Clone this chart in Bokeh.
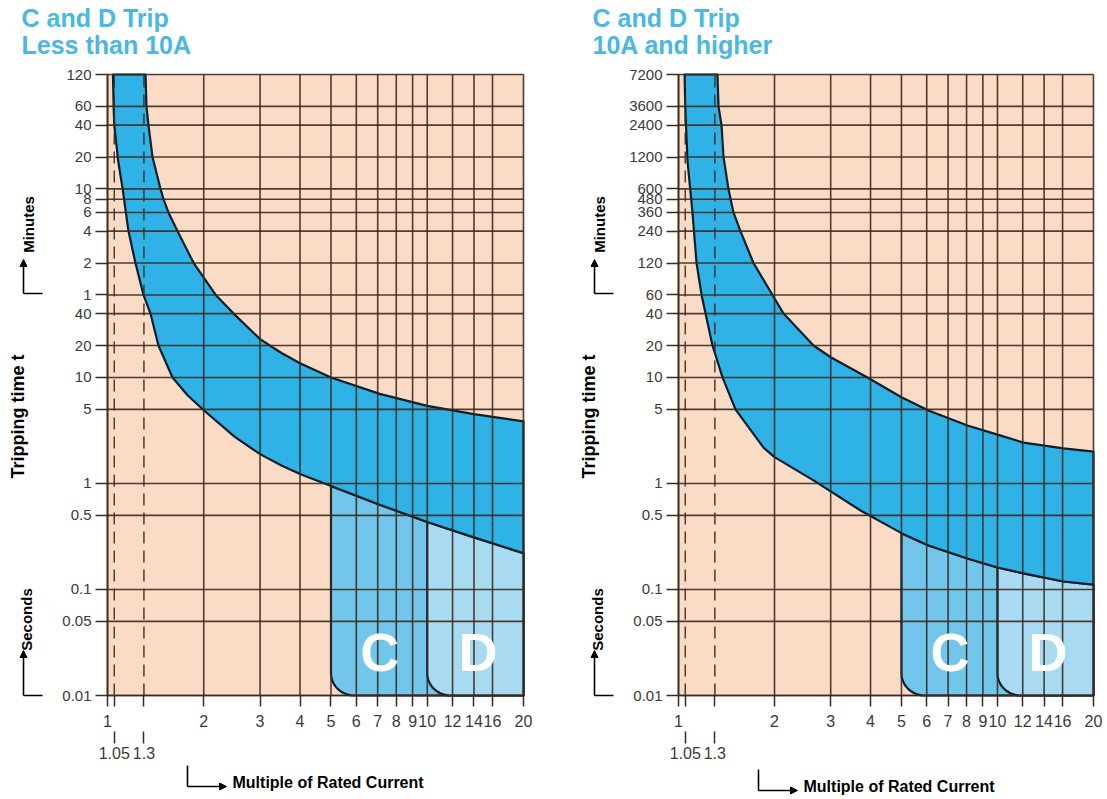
import numpy as np
from bokeh.plotting import figure
from bokeh.layouts import row
from bokeh.models import FixedTicker, LogAxis, Label, Arrow, NormalHead, Range1d
from bokeh.embed import file_html
from bokeh.resources import INLINE

# ---------------- data ----------------
x_ticks = [1, 2, 3, 4, 5, 6, 7, 8, 9, 10, 12, 14, 16, 20]
x_marks = [1.05, 1.3]
y_ticks = [7200, 3600, 2400, 1200, 600, 480, 360, 240, 120, 60, 40, 20, 10, 5, 1, 0.5, 0.1, 0.05, 0.01]
left_y_labels = ["120", "60", "40", "20", "10", "8", "6", "4", "2", "1",
                 "40", "20", "10", "5", "1", "0.5", "0.1", "0.05", "0.01"]
right_y_labels = ["7200", "3600", "2400", "1200", "600", "480", "360", "240", "120", "60",
                  "40", "20", "10", "5", "1", "0.5", "0.1", "0.05", "0.01"]

c_start = 5
d_start = 10

# Less than 10A: lower (fastest) and upper (slowest) trip curves, seconds
left_lower_x = [1.04, 1.045, 1.05, 1.08, 1.115, 1.163, 1.223, 1.296, 1.363, 1.443, 1.597,
                1.78, 2.0, 2.5, 3.0, 3.5, 4.0, 5.0, 7.0, 10.0, 14.0, 20.0]
left_lower_t = [7200, 3600, 2400, 1100, 600, 240, 120, 60, 40, 20, 10,
                6.8, 4.9, 2.75, 1.89, 1.48, 1.23, 0.945, 0.64, 0.433, 0.31, 0.22]
left_upper_x = [1.315, 1.324, 1.343, 1.383, 1.465, 1.497, 1.551, 1.655, 1.86, 2.18, 2.48,
                3.0, 3.5, 4.0, 5.0, 7.1, 10.0, 14.0, 20.0]
left_upper_t = [7200, 3600, 2400, 1200, 600, 480, 360, 240, 120, 60, 40,
                23, 17, 13.6, 10, 7.0, 5.4, 4.5, 3.85]

# 10A and higher
right_lower_x = [1.045, 1.05, 1.067, 1.106, 1.139, 1.181, 1.278, 1.374, 1.509, 1.847, 2.0,
                 2.65, 3.72, 5.0, 6.08, 8.05, 10.0, 12.06, 16.1, 20.0]
right_lower_t = [7200, 3600, 1100, 360, 120, 60, 20, 10, 5, 2.18, 1.77,
                 1.07, 0.556, 0.34, 0.26, 0.196, 0.161, 0.142, 0.119, 0.111]
right_upper_x = [1.325, 1.335, 1.364, 1.384, 1.434, 1.487, 1.564, 1.718, 1.971, 2.134, 2.65,
                 3.0, 3.913, 5.0, 6.08, 8.05, 10.0, 12.06, 16.1, 20.0]
right_upper_t = [7200, 3600, 2400, 1200, 600, 360, 240, 120, 60, 40, 20,
                 15.5, 10, 6.5, 4.88, 3.52, 2.89, 2.43, 2.14, 2.0]

left_title = ["C and D Trip", "Less than 10A"]
right_title = ["C and D Trip", "10A and higher"]
y_title = "Tripping time t"
y_upper = "Minutes"
y_lower = "Seconds"
x_title = "Multiple of Rated Current"

# ---------------- style / layout ----------------
FONT = "Liberation Sans"
PEACH = "#F9DBC6"
BAND = "#2FB2E5"
C_FILL = "#72C6EC"
D_FILL = "#A8DBF1"
GRID = "#3B2A1F"
OUTLINE = "#0F1E2A"
TITLE = "#4AB8E2"
TEXT = "#3A3A3A"
H = 797
FT, FB = 74, 695          # chart box top / bottom (px)
CORNER_RX = 0.073         # rounded corner radius, log10 units
CORNER_RY = 0.21

X_MIN, X_MAX = x_ticks[0], x_ticks[-1]
T_MIN, T_MAX = min(y_ticks), max(y_ticks)


def region(x0, cx, ct, n=14):
    cx = np.asarray(cx, float)
    ct = np.asarray(ct, float)
    sel = cx >= x0
    xs, ts = cx[sel], ct[sel]
    th = np.linspace(np.pi, 1.5 * np.pi, n)
    lx0 = np.log10(x0)
    lyb = np.log10(T_MIN)
    ax = 10 ** (lx0 + CORNER_RX + CORNER_RX * np.cos(th))
    ay = 10 ** (lyb + CORNER_RY + CORNER_RY * np.sin(th))
    px = [x0] + list(ax) + [xs[-1]] + list(xs[::-1])
    py = [ts[0]] + list(ay) + [T_MIN] + list(ts[::-1])
    return px, py


def make_panel(title, ylabels, lx, lt, ux, ut, width, fl, fr, xlab_y):
    dec_x = (fr - fl) / np.log10(X_MAX / X_MIN)
    dec_y = (FB - FT) / np.log10(T_MAX / T_MIN)
    xr = Range1d(X_MIN * 10 ** (-fl / dec_x), X_MIN * 10 ** ((width - fl) / dec_x))
    yr = Range1d(T_MIN * 10 ** (-(H - FB) / dec_y), T_MAX * 10 ** (FT / dec_y))
    p = figure(width=width, height=H, x_axis_type="log", y_axis_type="log",
               x_range=xr, y_range=yr, output_backend="svg", toolbar_location=None,
               min_border=0, min_border_left=0, min_border_right=0,
               min_border_top=0, min_border_bottom=0)
    p.background_fill_color = "white"
    p.border_fill_color = "white"
    p.outline_line_color = None
    p.grid.visible = False

    def sx(rel):
        return fl + rel

    def sy(py):
        return H - py

    def text(rel, py, s, size, color="black", angle=0, align="left"):
        p.add_layout(Label(x=sx(rel), y=sy(py), x_units="screen", y_units="screen", text=s,
                           text_font=FONT, text_font_size=size, text_font_style="bold",
                           text_color=color, angle=angle, angle_units="deg",
                           text_align=align, text_baseline="middle"))

    def seg(r0, y0, r1, y1, head=False):
        p.add_layout(Arrow(x_start=sx(r0), y_start=sy(y0), x_end=sx(r1), y_end=sy(y1),
                           start_units="screen", end_units="screen",
                           end=NormalHead(size=7, fill_color="black", line_color="black",
                                          line_width=1) if head else None,
                           line_color="black", line_width=1.6))

    # chart background
    p.quad(left=[X_MIN], right=[X_MAX], bottom=[T_MIN], top=[T_MAX],
           fill_color=PEACH, line_color=None)

    # C / D regions and the band
    cxs, cys = region(c_start, lx, lt)
    p.patch(cxs, cys, fill_color=C_FILL, line_color=OUTLINE, line_width=2.2, line_join="round")
    dxs, dys = region(d_start, lx, lt)
    p.patch(dxs, dys, fill_color=D_FILL, line_color=OUTLINE, line_width=2.2, line_join="round")
    p.patch(list(lx) + list(ux[::-1]), list(lt) + list(ut[::-1]),
            fill_color=BAND, line_color=OUTLINE, line_width=2.2, line_join="round")

    # grid lines on top of the fills
    p.segment(x0=x_ticks, y0=[T_MIN] * len(x_ticks), x1=x_ticks, y1=[T_MAX] * len(x_ticks),
              line_color=GRID, line_width=1.6, line_alpha=0.9)
    p.segment(x0=[X_MIN] * len(y_ticks), y0=y_ticks, x1=[X_MAX] * len(y_ticks), y1=y_ticks,
              line_color=GRID, line_width=1.6, line_alpha=0.9)
    p.segment(x0=x_marks, y0=[T_MIN] * len(x_marks), x1=x_marks, y1=[T_MAX] * len(x_marks),
              line_color=GRID, line_width=1.5, line_alpha=0.9, line_dash="12 7")

    # axes, fixed on the chart box
    xa = p.xaxis[0]
    xa.fixed_location = T_MIN
    xa.bounds = (X_MIN, X_MAX)
    xa.ticker = FixedTicker(ticks=x_ticks + x_marks)
    ov = {v: str(v) for v in x_ticks}
    ov.update({m: "" for m in x_marks})
    xa.major_label_overrides = ov
    xa.minor_tick_line_color = None
    xa.major_tick_out = 11
    xa.major_tick_in = 0
    xa.major_tick_line_color = GRID
    xa.major_tick_line_width = 1.5
    xa.axis_line_color = GRID
    xa.axis_line_width = 1.6
    xa.major_label_standoff = 8
    xa.major_label_text_font = FONT
    xa.major_label_text_font_size = "16px"
    xa.major_label_text_color = TEXT

    xa2 = LogAxis(ticker=FixedTicker(ticks=x_marks),
                  fixed_location=T_MIN * 10 ** (-(731 - FB) / dec_y),
                  major_label_overrides={m: str(m) for m in x_marks},
                  axis_line_color=None, minor_tick_line_color=None,
                  major_tick_out=12, major_tick_in=0,
                  major_tick_line_color=GRID, major_tick_line_width=1.5,
                  major_label_standoff=3, major_label_text_font=FONT,
                  major_label_text_font_size="16px", major_label_text_color=TEXT)
    p.add_layout(xa2, "below")

    ya = p.yaxis[0]
    ya.fixed_location = X_MIN
    ya.bounds = (T_MIN, T_MAX)
    ya.ticker = FixedTicker(ticks=y_ticks)
    ya.major_label_overrides = {v: s for v, s in zip(y_ticks, ylabels)}
    ya.minor_tick_line_color = None
    ya.major_tick_out = 12
    ya.major_tick_in = 0
    ya.major_tick_line_color = GRID
    ya.major_tick_line_width = 1.5
    ya.axis_line_color = GRID
    ya.axis_line_width = 1.6
    ya.major_label_standoff = 4
    ya.major_label_text_font = FONT
    ya.major_label_text_font_size = "15px"
    ya.major_label_text_color = TEXT

    # C / D letters
    for lx_, s in ((7.1, "C"), (14.4, "D")):
        p.add_layout(Label(x=lx_, y=0.0255, text=s, text_color="white", text_font=FONT,
                           text_font_size="54px", text_font_style="bold",
                           text_align="center", text_baseline="middle"))

    # titles
    text(-86, 17.5, title[0], "25px", color=TITLE)
    text(-86, 44.5, title[1], "25px", color=TITLE)

    # y labels and arrows
    text(-89.5, 416, y_title, "18px", angle=90, align="center")
    text(-79.5, 224, y_upper, "15px", angle=90, align="center")
    text(-81, 619, y_lower, "15px", angle=90, align="center")
    seg(-84, 293, -84, 259, head=True)
    seg(-84, 293, -65, 293)
    seg(-84, FB, -84, 650, head=True)
    seg(-84, FB, -65, FB)

    # x label and arrow
    seg(80, xlab_y - 21, 80, xlab_y)
    seg(80, xlab_y, 119, xlab_y, head=True)
    text(125, xlab_y - 4, x_title, "16px")
    return p


left = make_panel(left_title, left_y_labels, left_lower_x, left_lower_t,
                  left_upper_x, left_upper_t, width=537, fl=107, fr=523, xlab_y=786)
right = make_panel(right_title, right_y_labels, right_lower_x, right_lower_t,
                   right_upper_x, right_upper_t, width=570, fl=141, fr=556, xlab_y=790)

layout = row(left, right)
open("out.html", "w").write(file_html(layout, INLINE))
